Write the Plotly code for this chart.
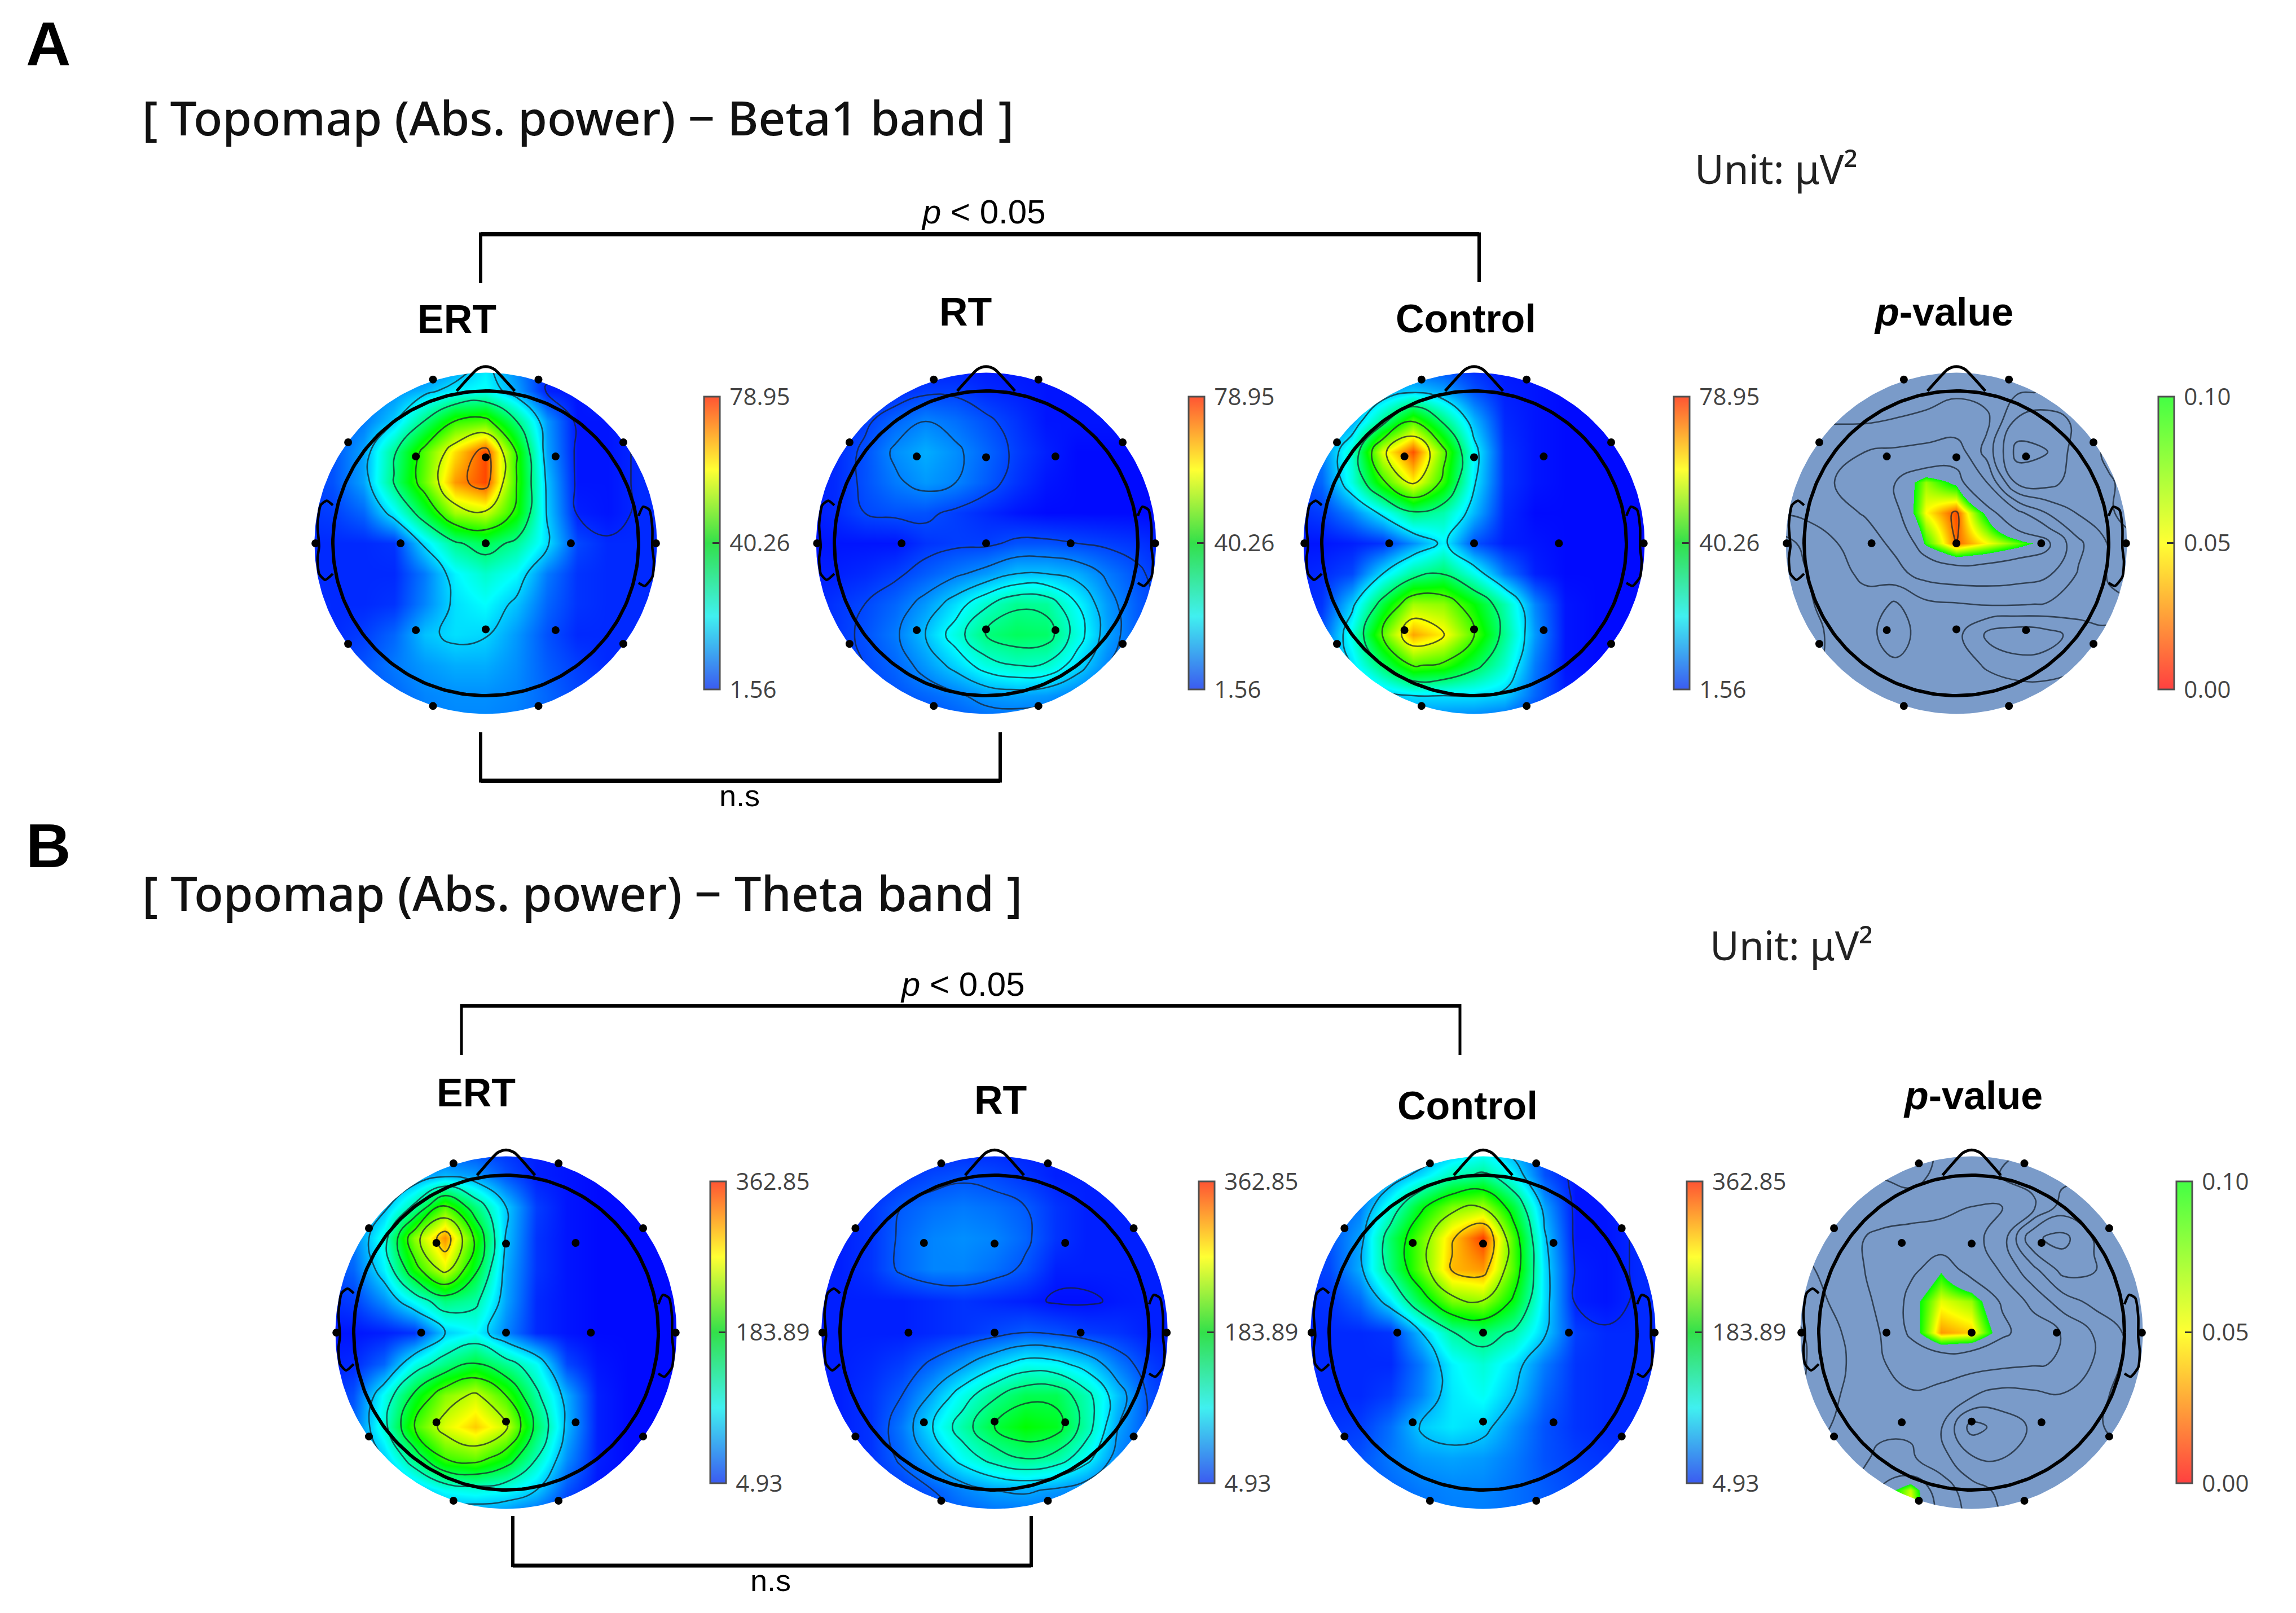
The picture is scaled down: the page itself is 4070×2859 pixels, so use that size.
import numpy as np
import plotly.graph_objects as go

W, H = 4070, 2859

# grid nodes (head radius = 1)
GRID = [-1.2, -1.0, -0.8, -0.6, -0.4, -0.2, 0.0, 0.2, 0.4, 0.6, 0.8, 1.0, 1.2]
GRID_Y = [1.2, 1.0, 0.8, 0.6, 0.4, 0.2, 0.0, -0.2, -0.4, -0.6, -0.8, -1.0, -1.2]

# Field readings: percent of the colour bar range at each node
A_ERT = [
 [5,5,5,5,8,12,22,12,5,4,4,4,4],
 [8,8,10,14,18,24,26,16,3,2,4,4,4],
 [8,8,12,20,38,55,58,38,15,2,2,4,4],
 [6,8,16,36,58,78,93,54,16,2,2,4,4],
 [6,8,16,38,60,85,93,55,19,2,2,4,4],
 [5,6,10,24,44,66,70,52,20,3,2,4,4],
 [4,4,4,5,22,36,42,35,22,7,4,4,4],
 [4,4,4,4,12,24,30,25,12,5,4,4,4],
 [5,4,4,5,13,22,25,19,10,5,4,4,4],
 [5,4,6,10,19,22,21,15,8,4,4,4,4],
 [6,6,8,12,15,17,17,14,9,6,4,4,4],
 [8,8,8,10,13,14,14,13,10,7,6,5,5],
 [8,8,8,10,12,13,13,12,10,8,6,6,6],
]
A_RT = [
 [2,2,2,2,2,2,2,2,2,2,2,2,2],
 [2,2,2,4,6,6,4,3,2,2,2,2,2],
 [2,3,6,10,13,11,8,5,2,2,2,2,2],
 [3,4,8,14,17,14,10,6,3,1,1,1,1],
 [3,4,8,12,15,13,9,5,2,1,1,1,1],
 [2,4,7,8,8,6,4,2,1,1,1,1,1],
 [2,2,2,2,5,6,6,8,8,7,6,5,3],
 [3,3,4,6,9,12,15,19,19,17,12,8,4],
 [3,5,7,10,15,22,30,36,35,25,15,9,5],
 [3,5,8,12,19,28,38,41,40,28,16,9,5],
 [3,5,7,10,15,21,28,31,30,22,13,8,4],
 [2,4,6,8,10,12,15,16,15,12,8,5,3],
 [2,3,4,5,6,8,9,9,8,6,4,3,2],
]
A_CONTROL = [
 [5,5,5,5,5,4,3,2,2,2,2,2,2],
 [8,8,12,16,20,16,8,3,2,1,1,1,1],
 [8,10,16,36,58,38,18,4,2,1,1,1,1],
 [8,12,30,72,92,60,25,5,2,1,1,1,1],
 [6,10,28,55,76,54,23,5,2,1,1,1,1],
 [4,6,13,24,38,33,18,4,1,1,1,1,1],
 [2,2,3,5,14,24,8,3,2,1,1,1,1],
 [3,4,7,22,35,40,27,12,3,1,1,1,1],
 [3,5,20,44,66,64,50,33,13,2,1,1,1],
 [4,8,28,59,84,76,58,36,15,2,1,1,1],
 [6,12,22,40,58,55,43,30,12,2,1,1,1],
 [5,8,10,18,22,22,22,20,10,3,2,1,1],
 [3,4,5,8,10,10,9,7,4,3,2,1,1],
]
B_ERT = [
 [4,4,4,4,5,5,4,3,2,2,1,1,1],
 [6,8,10,14,18,15,8,3,2,1,1,1,1],
 [8,10,18,34,58,38,20,6,2,1,1,1,1],
 [8,12,28,64,86,54,19,5,2,1,1,1,1],
 [6,10,24,52,72,46,17,5,2,1,1,1,1],
 [4,6,14,26,38,34,16,4,2,1,1,1,1],
 [2,2,3,5,20,25,13,4,2,1,1,1,1],
 [3,4,10,27,37,45,36,26,7,2,1,1,1],
 [3,8,26,46,63,70,56,34,17,3,1,1,1],
 [4,10,29,56,72,80,70,41,18,3,1,1,1],
 [5,10,20,38,56,60,50,32,14,3,1,1,1],
 [5,7,10,18,26,28,26,20,8,2,1,1,1],
 [4,5,7,9,10,10,9,6,3,2,1,1,1],
]
B_RT = [
 [3,3,3,3,3,3,3,3,3,3,3,3,3],
 [3,3,3,5,7,8,7,5,3,3,3,3,3],
 [3,3,5,9,11,12,11,9,5,3,3,3,3],
 [3,3,5,10,13,14,13,10,5,3,3,3,3],
 [3,3,5,10,13,13,11,8,3,3,3,3,3],
 [3,3,3,3,4,5,4,3,1.5,1.5,2.5,3,3],
 [3,3,3,3,4,5,7,9,8,6,5,3,3],
 [3,3,4,6,10,15,21,26,25,20,12,6,3],
 [3,3,5,9,17,27,36,42,42,32,19,8,3],
 [3,3,5,12,23,34,44,50,47,33,16,8,3],
 [3,3,5,10,17,26,33,37,34,25,13,7,3],
 [3,3,4,6,9,13,16,17,15,12,7,4,3],
 [3,3,3,4,6,8,9,9,8,6,4,3,3],
]
B_CONTROL = [
 [5,5,5,6,8,14,20,14,6,3,3,3,3],
 [6,6,8,14,22,32,36,24,8,2,2,4,4],
 [6,8,12,28,48,62,66,44,16,2,2,4,4],
 [6,8,16,40,60,80,94,56,20,2,2,4,4],
 [5,7,17,38,60,82,85,57,22,3,2,4,4],
 [4,5,10,23,44,62,65,48,22,3,2,4,4],
 [4,4,4,5,19,34,39,33,20,6,4,4,4],
 [4,4,4,4,12,24,29,22,12,5,4,4,4],
 [4,4,4,6,13,23,26,19,10,5,4,4,4],
 [5,5,6,11,20,23,21,14,8,5,4,4,4],
 [6,6,8,12,15,16,15,12,8,6,5,4,4],
 [8,8,8,10,12,13,13,11,9,7,6,5,5],
 [8,8,8,10,11,12,12,11,9,8,7,6,6],
]
# p-value maps: p x 100 at each node
A_P = [
 [50,50,50,50,50,50,48,52,55,55,55,55,55],
 [50,50,50,50,49,46,42,46,52,55,58,55,55],
 [40,42,42,42,40,38,38,38,70,74,64,58,55],
 [34,33,31,28,26,24,20,46,85,80,60,52,50],
 [36,33,28,24,15,7,11,28,70,72,60,55,50],
 [42,38,32,27,17,5,1.5,11,24,42,55,55,50],
 [60,52,42,34,25,9,2,5,8,12,38,55,55],
 [60,55,46,38,32,23,20,20,22,26,42,55,55],
 [62,56,50,46,56,44,42,40,40,42,46,52,55],
 [62,58,52,50,60,48,50,70,76,72,62,55,55],
 [60,56,52,50,52,50,45,56,62,62,56,52,50],
 [55,52,50,48,46,44,42,44,46,46,46,46,46],
 [50,50,48,48,48,48,48,48,48,48,48,48,48],
]
B_P = [
 [42,42,42,42,45,40,30,38,40,40,40,40,40],
 [42,42,42,42,45,38,30,42,46,50,50,46,42],
 [40,36,34,33,35,33,28,28,38,60,60,55,50],
 [42,38,30,26,22,20,24,34,78,84,66,58,50],
 [48,40,32,24,17,10.5,18,30,50,72,68,58,50],
 [52,44,34,26,12,5.5,7,16,32,48,58,60,55],
 [58,50,38,28,13,3,4,13,20,29,42,55,60],
 [60,50,40,29,24,22,23,25,27,29,42,56,62],
 [58,48,38,30,29,32,40,46,44,42,48,60,65],
 [52,44,36,30,30,40,72,62,52,50,52,58,60],
 [44,38,32,26,26,36,52,54,52,48,48,50,50],
 [40,34,28,14,6,20,36,44,44,44,44,46,46],
 [36,30,22,12,4,18,32,40,42,42,42,42,42],
]

# Electrodes (10-20 layout, head radius = 1)
ELEC_X = [-0.345,0.345,-0.90,0.90,-1.114,1.114,-0.90,0.90,-0.345,0.345,
          -0.457,0.0,0.457,-0.557,0.0,0.557,-0.457,0.0,0.457]
ELEC_Y = [1.075,1.075,0.663,0.663,0.0,0.0,-0.66,-0.66,-1.068,-1.068,
          0.57,0.565,0.57,0.0,0.0,0.0,-0.57,-0.565,-0.57]

A_TICKS = [1.56, 40.26, 78.95]
A_TICK_TEXT = ["1.56", "40.26", "78.95"]
B_TICKS = [4.93, 183.89, 362.85]
B_TICK_TEXT = ["4.93", "183.89", "362.85"]
P_TICKS = [0.0, 0.05, 0.10]
P_TICK_TEXT = ["0.00", "0.05", "0.10"]

JET = [[0,"#0000ff"],[.25,"#00ffff"],[.5,"#00ff00"],[.75,"#ffff00"],[1,"#ff0000"]]
JET_BAR = [[0,"#3b5bf0"],[.25,"#40f0f0"],[.5,"#33e04a"],[.75,"#ffff33"],[1,"#ff5533"]]
SLATE = "#7a9bc9"
P_MAP = [[0,"#ff0000"],[.05,"#ffff00"],[.1,"#00ff00"],[.1001,SLATE],[1,SLATE]]
P_BAR = [[0,"#ff4040"],[.5,"#ffff33"],[1,"#44ff44"]]

# field, kind, cx, cy, sx, sy, bar_x, bar_top, bar_bottom, level start, level step
PANELS = [
 (A_ERT,     "A", 861, 963, 271, 270, 1248, 703, 1222, 3.5, 17),
 (A_RT,      "A", 1748, 963, 269, 270, 2107, 703, 1222, 7, 6),
 (A_CONTROL, "A", 2613, 963, 270, 270, 2967, 703, 1222, 22, 17.5),
 (A_P,       "PA", 3468, 963, 270, 270, 3826, 703, 1222, 2, 13),
 (B_ERT,     "B", 897, 2362, 270, 279, 1259, 2094, 2629, 20, 12),
 (B_RT,      "B", 1763, 2362, 274, 279, 2125, 2094, 2629, 2, 7),
 (B_CONTROL, "B", 2629, 2362, 273, 279, 2990, 2094, 2629, 3.5, 15.5),
 (B_P,       "PB", 3495, 2362, 271, 279, 3858, 2094, 2629, 15, 13),
]

SPAN = 1.32
DISC = 1.12
theta = np.linspace(0, 2*np.pi, 241)
fig = go.Figure()
layout_axes = {}

NOSE_X = [-0.19,-0.06,-0.03,0.0,0.03,0.06,0.19]
NOSE_Y = [1.0,1.14,1.155,1.16,1.155,1.14,1.0]
EAR_L_X = [-1.0,-1.04,-1.08,-1.10,-1.09,-1.10,-1.09,-1.05,-1.0]
EAR_L_Y = [0.25,0.28,0.25,0.12,-0.02,-0.1,-0.2,-0.24,-0.2]
EAR_R_X = [1.0,1.03,1.07,1.09,1.09,1.10,1.09,1.04,1.0]
EAR_R_Y = [0.18,0.24,0.22,0.10,-0.03,-0.12,-0.22,-0.28,-0.26]

for i, (field, kind, cx, cy, sx, sy, bx, bt, bb, lv0, lvs) in enumerate(PANELS, start=1):
    xa, ya = ("x%d" % i, "y%d" % i)
    dom_x = [(cx - SPAN*sx)/W, (cx + SPAN*sx)/W]
    dom_y = [1 - (cy + SPAN*sy)/H, 1 - (cy - SPAN*sy)/H]
    layout_axes["xaxis%d" % i] = dict(domain=dom_x, range=[-SPAN, SPAN], visible=False, anchor=ya, fixedrange=True)
    layout_axes["yaxis%d" % i] = dict(domain=dom_y, range=[-SPAN, SPAN], visible=False, anchor=xa, fixedrange=True)

    if kind in ("A", "B"):
        ticks, text = (A_TICKS, A_TICK_TEXT) if kind == "A" else (B_TICKS, B_TICK_TEXT)
        lo, hi = ticks[0], ticks[-1]
        z = lo + np.array(field, float)/100*(hi - lo)
        cscale, zmin, zmax, bar = JET, lo, hi, JET_BAR
        start, step = lo + lv0/100*(hi - lo), lvs/100*(hi - lo)
        end = hi
    else:
        ticks, text = P_TICKS, P_TICK_TEXT
        lo, hi = 0.0, 0.10
        z = np.array(field, float)/100
        cscale, zmin, zmax, bar = P_MAP, 0, 1, P_BAR
        start, step, end = lv0/100, lvs/100, 0.95

    fig.add_trace(go.Heatmap(x=GRID, y=GRID_Y, z=z, colorscale=cscale, zmin=zmin, zmax=zmax,
                             zsmooth="best", showscale=False, hoverinfo="skip", xaxis=xa, yaxis=ya))
    fig.add_trace(go.Contour(x=GRID, y=GRID_Y, z=z, autocontour=False, showscale=False,
                             contours=dict(start=start, end=end, size=step, coloring="none"),
                             line=dict(color="rgba(25,35,45,0.75)", width=2.6, smoothing=1.3),
                             hoverinfo="skip", xaxis=xa, yaxis=ya))
    # colour bar (library's own)
    fig.add_trace(go.Scatter(x=[0,0], y=[0,0], mode="markers", xaxis=xa, yaxis=ya, hoverinfo="skip",
        marker=dict(size=1, color=[lo,hi], cmin=lo, cmax=hi, colorscale=bar, showscale=True,
            colorbar=dict(x=bx/W, xanchor="left", xpad=0, y=1-(bt+bb)/2/H, yanchor="middle", ypad=0,
                          thickness=28, thicknessmode="pixels", len=bb-bt, lenmode="pixels",
                          outlinecolor="#505050", outlinewidth=3, bordercolor="rgba(0,0,0,0)",
                          tickmode="array", tickvals=ticks, ticktext=["\u2009" + t for t in text],
                          ticks="inside", ticklen=14, tickcolor="#333", tickwidth=3,
                          tickfont=dict(family="Open Sans", size=42, color="#444")))))
    # white mask around the disc
    mx = [-2, 2, 2, -2, -2] + list(-DISC*np.cos(theta)) + [-2]
    my = [-2, -2, 2, 2, -2] + list(DISC*np.sin(theta)) + [-2]
    fig.add_trace(go.Scatter(x=mx, y=my, mode="lines", fill="toself", fillcolor="white",
                             line=dict(width=0, color="white"), hoverinfo="skip", xaxis=xa, yaxis=ya))
    # ears, nose, head, electrodes
    for ex, ey, lw in ((EAR_L_X, EAR_L_Y, 4.5), (EAR_R_X, EAR_R_Y, 4.5), (NOSE_X, NOSE_Y, 5)):
        fig.add_trace(go.Scatter(x=ex, y=ey, mode="lines", line=dict(color="black", width=lw, shape="spline", smoothing=0.6),
                                 hoverinfo="skip", xaxis=xa, yaxis=ya))
    fig.add_trace(go.Scatter(x=np.cos(theta), y=np.sin(theta), mode="lines",
                             line=dict(color="black", width=6), hoverinfo="skip", xaxis=xa, yaxis=ya))
    fig.add_trace(go.Scatter(x=ELEC_X, y=ELEC_Y, mode="markers", marker=dict(color="black", size=14),
                             hoverinfo="skip", xaxis=xa, yaxis=ya))

def note(text, x, y, size, family="Liberation Sans", color="black", anchor="center", weight="normal"):
    return dict(text=text, x=x/W, y=1-y/H, xref="paper", yref="paper", showarrow=False,
                xanchor=anchor, yanchor="middle", font=dict(family=family, size=size, color=color, weight=weight))

def line(x0, y0, x1, y1, w=7):
    return dict(type="line", xref="paper", yref="paper", x0=x0/W, x1=x1/W, y0=1-y0/H, y1=1-y1/H,
                line=dict(color="black", width=w))

BOLD = "<b>%s</b>"
annotations = [
    note(BOLD % "A", 85, 76, 110),
    note(BOLD % "B", 85, 1498, 110),
    note("[ Topomap (Abs. power) − Beta1 band ]", 250, 207, 84, "Noto Sans", "#111", "left", 500),
    note("[ Topomap (Abs. power) − Theta band ]", 250, 1582, 85, "Noto Sans", "#111", "left", 500),
    note("Unit: μV²", 3148, 298, 71, "Noto Sans", "#222"),
    note("Unit: μV²", 3175, 1675, 71, "Noto Sans", "#222"),
    note("<i>p</i> &lt; 0.05", 1743, 375, 60),
    note("<i>p</i> &lt; 0.05", 1706, 1745, 60),
    note("n.s", 1311, 1410, 54),
    note("n.s", 1366, 2801, 54),
    note(BOLD % "ERT", 810, 566, 70),
    note(BOLD % "RT", 1711, 553, 70),
    note(BOLD % "Control", 2598, 565, 70),
    note("<b><i>p</i>-value</b>", 3445, 553, 70),
    note(BOLD % "ERT", 844, 1937, 70),
    note(BOLD % "RT", 1773, 1950, 70),
    note(BOLD % "Control", 2601, 1960, 70),
    note("<b><i>p</i>-value</b>", 3497, 1942, 70),
]
shapes = [
    line(852, 415, 2622, 415, 8), line(852, 412, 852, 502, 6), line(2622, 412, 2622, 500, 6),
    line(852, 1384, 1773, 1384, 8), line(852, 1387, 852, 1298, 6), line(1773, 1387, 1773, 1298, 6),
    line(818, 1783, 2588, 1783, 6), line(818, 1780, 818, 1870, 5), line(2588, 1780, 2588, 1870, 5),
    line(909, 2775, 1828, 2775, 7), line(909, 2778, 909, 2687, 6), line(1828, 2778, 1828, 2687, 6),
]

fig.update_layout(width=W, height=H, margin=dict(l=0, r=0, t=0, b=0, autoexpand=False),
                  paper_bgcolor="white", plot_bgcolor="rgba(0,0,0,0)", showlegend=False,
                  annotations=annotations, shapes=shapes, **layout_axes)
fig.write_html("out.html", post_script="document.body.style.margin='0';", config={"displayModeBar": False})
